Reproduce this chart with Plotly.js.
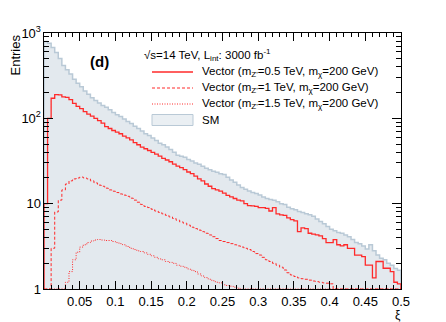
<!DOCTYPE html>
<html>
<head>
<meta charset="utf-8">
<script src="https://cdn.plot.ly/plotly-3.0.1.min.js"></script>
<style>
  html, body { margin: 0; padding: 0; background: #fff; }
  #chart { width: 446px; height: 322px; }
</style>
</head>
<body>
<div id="chart"></div>
<script>
// histogram binning: 100 bins of 0.005 between 0 and 0.5
var binWidth = 0.005;
var xMin = 0;

// SM background (entries per bin)
var sm = [
  794, 759, 676, 589, 501, 417, 372, 331, 288, 257,
  234, 209, 191, 174, 162, 151, 141, 135, 126, 117,
  110, 105, 98, 92, 87, 81, 76, 71, 66, 63,
  59, 55, 51, 49, 46, 43, 40, 37, 36, 35,
  33, 31.6, 30, 29, 27.5, 26, 25, 24, 23.4, 22.4,
  21.9, 20.4, 19, 17.8, 16.6, 15.5, 14.8, 14.1, 13.5, 13.2,
  12.6, 12, 11.5, 11.2, 11, 10.5, 10, 9.8, 9.1, 8.7,
  8.5, 8.1, 7.9, 7.6, 7.4, 7.1, 6.6, 6.2, 5.8, 5.4,
  5.0, 4.8, 4.6, 4.5, 4.3, 4.1, 3.8, 3.5, 3.4, 3.2,
  2.95, 3.3, 2.8, 2.5, 2.3, 2.2, 2.0, 1.9, 1.74, 1.66
];

// Vector mZ'=0.5 TeV
var v05 = [
  10, 100, 172, 190, 188, 178, 176, 166, 150, 138,
  130, 120, 112, 106, 100, 94, 88, 80, 76, 72,
  69, 66, 62, 59, 56, 52, 49, 46, 44, 42,
  40, 38, 36, 34, 32.5, 31, 29, 27.5, 26.5, 25,
  23.5, 22.5, 21, 19.5, 18.5, 17, 16, 15, 14.5, 14,
  13.3, 12.5, 12, 11.5, 11, 10.8, 10, 9.5, 9.4, 9.3,
  9, 9, 8.8, 8.2, 9, 7.6, 7.4, 7.3, 6.8, 6.5,
  6.3, 4.7, 5.2, 5.1, 4.5, 4.4, 4.3, 4.2, 3.9, 3.5,
  3.5, 3.8, 3.3, 3.2, 3.3, 3.0, 3.0, 2.5, 2.5, 2.4,
  1.9, 1.9, 1.35, 2.1, 2.1, 1.75, 1.75, 1.6, 1.2, 1.15
];

// Vector mZ'=1 TeV
var v10 = [
  0, 0, 3.0, 8.0, 11, 14.5, 17, 18.5, 19.5, 20,
  20.5, 20, 19.5, 18.5, 17.5, 16.5, 16, 15.2, 14.5, 14,
  13.5, 13, 12.6, 12.2, 11.6, 11, 10.4, 9.8, 9.3, 9,
  8.6, 8.2, 7.9, 7.6, 7.3, 7.0, 6.7, 6.4, 6.1, 5.9,
  5.6, 5.3, 5.1, 4.9, 4.7, 4.5, 4.3, 4.1, 3.9, 3.7,
  3.6, 3.5, 3.4, 3.3, 3.2, 3.1, 3.0, 2.9, 2.75, 2.6,
  2.5, 2.35, 2.2, 2.1, 2.0, 1.9, 1.8, 1.67, 1.55, 1.46,
  1.4, 1.35, 1.32, 1.3, 1.27, 1.24, 1.22, 1.2, 1.18, 1.17,
  1.15, 0, 0, 0, 0, 0, 0, 0, 0, 0,
  0, 0, 0, 0, 0, 0, 0, 0, 0, 0
];

// Vector mZ'=1.5 TeV
var v15 = [
  0, 0, 0, 0, 0, 0, 1.2, 1.6, 2.2, 2.7,
  3.1, 3.3, 3.5, 3.65, 3.75, 3.8, 3.75, 3.7, 3.7, 3.6,
  3.5, 3.4, 3.3, 3.15, 3.0, 2.9, 2.8, 2.75, 2.65, 2.55,
  2.45, 2.35, 2.25, 2.2, 2.1, 2.05, 2.0, 1.9, 1.85, 1.8,
  1.72, 1.66, 1.6, 1.5, 1.42, 1.36, 1.3, 1.25, 1.2, 1.18,
  1.12, 1.1, 1.08, 1.05, 1.02, 0, 0, 0, 0, 0,
  0, 0, 0, 0, 0, 0, 0, 0, 0, 0,
  0, 0, 0, 0, 0, 0, 0, 0, 0, 0,
  0, 0, 0, 0, 0, 0, 0, 0, 0, 0,
  0, 0, 0, 0, 0, 0, 0, 0, 0, 0
];

var xTickVals = [0.05, 0.1, 0.15, 0.2, 0.25, 0.3, 0.35, 0.4, 0.45, 0.5];
var xTickText = ['0.05', '0.1', '0.15', '0.2', '0.25', '0.3', '0.35', '0.4', '0.45', '0.5'];

var legendHeader = '\u221As=14 TeV, L<sub>int</sub>: 3000 fb<sup>-1</sup>';
var seriesNames = [
  'Vector (m<sub>Z\'</sub>=0.5 TeV, m<sub>\u03c7</sub>=200 GeV)',
  'Vector (m<sub>Z\'</sub>=1 TeV, m<sub>\u03c7</sub>=200 GeV)',
  'Vector (m<sub>Z\'</sub>=1.5 TeV, m<sub>\u03c7</sub>=200 GeV)',
  'SM'
];

var yFloor = 1; // bottom of the log axis, ROOT draws lower bins on the frame
var red = '#ff2a2a';
var smLine = '#b9c9d6';
var dashStyles = ['solid', '3px,2px', '1px,1.5px'];

function centers(vals) {
  return vals.map(function (v, i) { return xMin + (i + 0.5) * binWidth; });
}

// outline of a histogram as a step line, starting and ending on the frame
function outline(vals) {
  var xs = [xMin], ys = [yFloor];
  vals.forEach(function (v, i) {
    xs.push(xMin + i * binWidth);
    ys.push(Math.max(v, yFloor));
  });
  var xEnd = xMin + vals.length * binWidth;
  xs.push(xEnd); ys.push(Math.max(vals[vals.length - 1], yFloor));
  xs.push(xEnd); ys.push(yFloor);
  return {x: xs, y: ys};
}

var smFill = {
  type: 'bar',
  x: centers(sm),
  y: sm,
  width: binWidth,
  marker: {
    color: '#ffffff',
    line: {width: 0},
    pattern: {shape: '|', fgcolor: '#cbd6e0', bgcolor: '#fbfcfd', size: 2, solidity: 0.5}
  },
  hoverinfo: 'skip',
  showlegend: false
};

var smOut = outline(sm);
var smEdge = {
  x: smOut.x, y: smOut.y, mode: 'lines',
  line: {shape: 'hv', color: smLine, width: 1.5},
  hoverinfo: 'skip', showlegend: false
};

function sigTrace(vals, dash, width) {
  var o = outline(vals);
  return {
    x: o.x, y: o.y, mode: 'lines',
    line: {shape: 'hv', color: red, width: width, dash: dash},
    hoverinfo: 'skip', showlegend: false
  };
}

var data = [
  smFill, smEdge,
  sigTrace(v15, dashStyles[2], 1),
  sigTrace(v10, dashStyles[1], 1),
  sigTrace(v05, dashStyles[0], 1.3)
];

// plot frame in pixels: x 44..401, y 33..289
function px(x) { return (x - 44) / 357; }
function py(y) { return (289 - y) / 256; }

var fontFam = '"Liberation Sans", Arial, Helvetica, sans-serif';
var rowY = [72, 88, 104, 120];

var annotations = [
  {text: 'Entries', x: px(15), y: 1, xref: 'paper', yref: 'paper', textangle: -90,
   xanchor: 'center', yanchor: 'top', showarrow: false, font: {size: 13}},
  {text: '\u03be', x: px(398), y: py(306.5), xref: 'paper', yref: 'paper',
   xanchor: 'center', yanchor: 'top', showarrow: false, font: {size: 12}, borderpad: 0},
  {text: '<b>(d)</b>', x: px(99), y: py(61), xref: 'paper', yref: 'paper',
   xanchor: 'center', yanchor: 'middle', showarrow: false, font: {size: 15}},
  {text: legendHeader, x: px(142), y: py(55), xref: 'paper', yref: 'paper',
   xanchor: 'left', yanchor: 'middle', showarrow: false, font: {size: 11.5}}
];
seriesNames.forEach(function (name, i) {
  annotations.push({text: name, x: px(200), y: py(rowY[i]), xref: 'paper', yref: 'paper',
    xanchor: 'left', yanchor: 'middle', showarrow: false, font: {size: 11.5}});
});

var shapes = [];
[0, 1, 2].forEach(function (i) {
  shapes.push({type: 'line', xref: 'paper', yref: 'paper',
    x0: px(152), x1: px(193), y0: py(rowY[i]), y1: py(rowY[i]),
    line: {color: red, width: i === 0 ? 1.3 : 1, dash: dashStyles[i]}});
});
shapes.push({type: 'rect', xref: 'paper', yref: 'paper',
  x0: px(152), x1: px(193), y0: py(rowY[3] - 5.5), y1: py(rowY[3] + 5.5),
  fillcolor: '#eaeff3', line: {color: smLine, width: 1}});

var layout = {
  width: 446, height: 322,
  margin: {l: 44, r: 45, t: 33, b: 33},
  paper_bgcolor: '#ffffff', plot_bgcolor: '#ffffff',
  font: {family: fontFam, color: '#000000', size: 13},
  showlegend: false,
  bargap: 0,
  xaxis: {
    range: [0, 0.5], showgrid: false, zeroline: false,
    showline: true, linecolor: '#000', linewidth: 1, mirror: 'allticks',
    ticks: 'inside', ticklen: 8, tickcolor: '#000',
    tickmode: 'array', tickvals: xTickVals, ticktext: xTickText,
    tickfont: {size: 13},
    minor: {ticks: 'inside', ticklen: 4, tickcolor: '#000', tickmode: 'linear', tick0: 0, dtick: 0.01}
  },
  yaxis: {
    type: 'log', range: [0, 3], showgrid: false, zeroline: false,
    showline: true, linecolor: '#000', linewidth: 1, mirror: 'allticks',
    ticks: 'inside', ticklen: 9, tickcolor: '#000',
    tick0: 0, dtick: 1, exponentformat: 'power', showexponent: 'all',
    tickfont: {size: 10.4},
    minor: {ticks: 'inside', ticklen: 5, tickcolor: '#000', dtick: 'D1'}
  },
  annotations: annotations,
  shapes: shapes
};

Plotly.newPlot('chart', data, layout, {displayModeBar: false, staticPlot: true});
</script>
</body>
</html>
